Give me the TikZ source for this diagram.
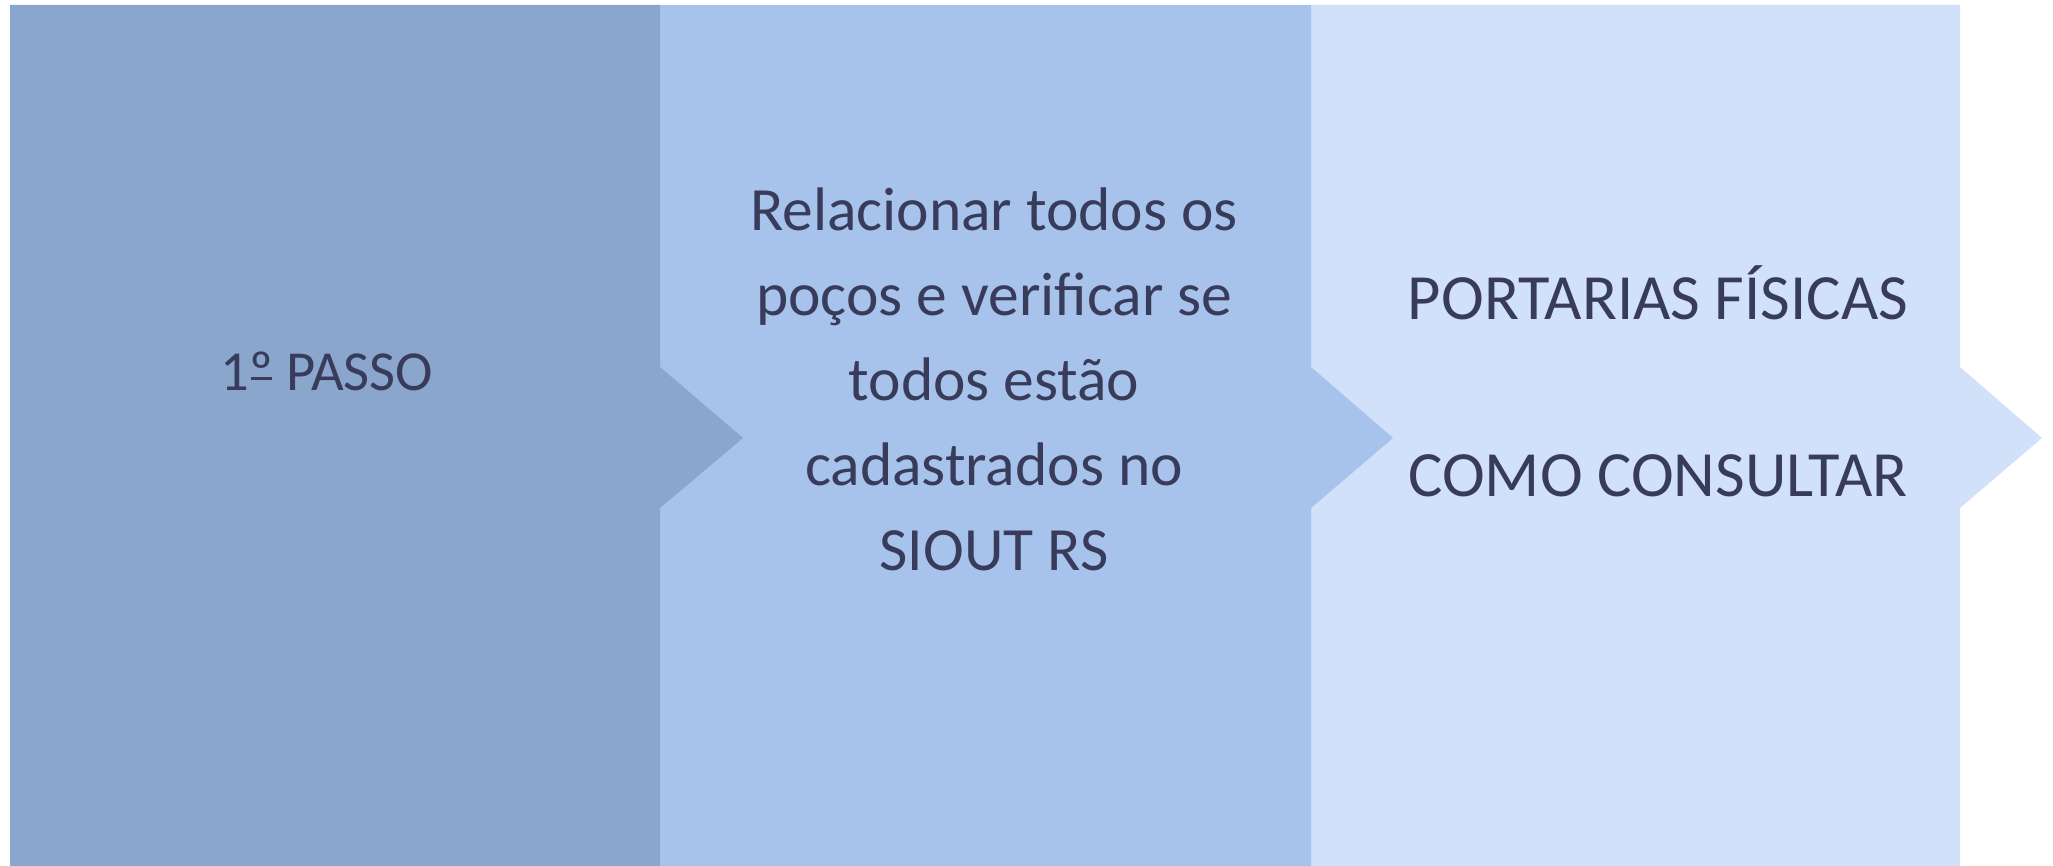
\documentclass[tikz,border=0pt]{standalone}
\usepackage{fontspec}
\setmainfont{Carlito}
\definecolor{pone}{HTML}{8AA6CD}
\definecolor{ptwo}{HTML}{A7C3EC}
\definecolor{pthree}{HTML}{D0E1F9}
\definecolor{txt}{HTML}{383C5A}
\newcommand{\ordm}{\makebox[0pt][l]{\hspace{0.03em}\rule[0.2em]{0.36em}{0.045em}}º}
\begin{document}
\begin{tikzpicture}[x=1pt,y=-1pt,
  panel/.style={draw=none},
  label/.style={text=txt,inner sep=0pt,align=center}]
\useasboundingbox (0,0) rectangle (2053,866);
\fill[pthree,panel] (1311,5) -- (1960,5) -- (1960,367) -- (2042,438) -- (1960,508) -- (1960,866) -- (1311,866) -- cycle;
\fill[ptwo,panel] (660,5) -- (1311,5) -- (1311,367) -- (1393,438) -- (1311,508) -- (1311,866) -- (660,866) -- cycle;
\fill[pone,panel] (10,5) -- (660,5) -- (660,367) -- (743,438) -- (660,508) -- (660,866) -- (10,866) -- cycle;
\node[label,anchor=base,font=\fontsize{56.5}{62}\selectfont] (t1) at (327,391) {1\ordm{} PASSO};
\node[label,anchor=center,font=\fontsize{61.5}{85}\selectfont] (t2) at (994,379) {Relacionar todos os\\poços e verificar se\\todos estão\\cadastrados no\\SIOUT RS};
\node[label,anchor=center,font=\fontsize{64.5}{88.5}\selectfont] (t3) at (1658,381) {PORTARIAS FÍSICAS\\[88.5pt]COMO CONSULTAR};
\end{tikzpicture}
\end{document}
